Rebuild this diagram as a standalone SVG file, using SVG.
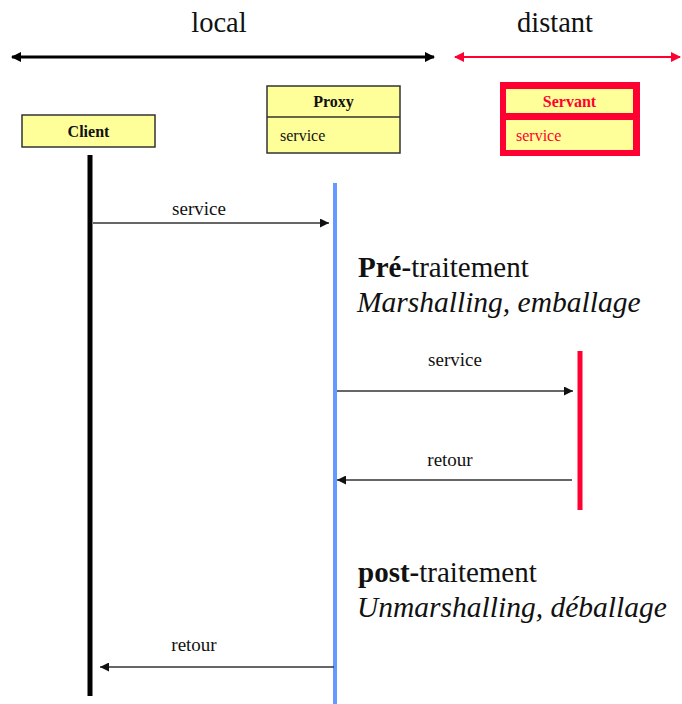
<svg xmlns="http://www.w3.org/2000/svg" width="682" height="704" viewBox="0 0 682 704" font-family="'Liberation Serif', 'Times New Roman', serif">
  <style>
    .box { fill: #ffff99; stroke: #333; stroke-width: 1.5; }
    .title { font-size: 16px; font-weight: bold; text-anchor: middle; fill: #111; }
    .op { font-size: 16px; fill: #111; }
    .msg { font-size: 19px; text-anchor: middle; fill: #111; }
    .zone { font-size: 28.5px; text-anchor: middle; fill: #111; }
    .big { font-size: 29px; fill: #111; }
    .sub { font-size: 29.5px; font-style: italic; fill: #111; }
    .call { stroke: #333; stroke-width: 1.6; fill: none; }
  </style>
  <defs>
    <marker id="head" viewBox="0 0 10 10" refX="10" refY="5" markerWidth="10" markerHeight="9" markerUnits="userSpaceOnUse" orient="auto-start-reverse">
      <path d="M0,0 L10,5 L0,10 z" fill="#111"/>
    </marker>
    <marker id="zoneHeadBlack" viewBox="0 0 10 10" refX="9" refY="5" markerWidth="3.5" markerHeight="3.5" orient="auto-start-reverse">
      <path d="M0,0 L10,5 L0,10 z" fill="#000"/>
    </marker>
    <marker id="zoneHeadRed" viewBox="0 0 10 10" refX="9" refY="5" markerWidth="5" markerHeight="5" orient="auto-start-reverse">
      <path d="M0,0 L10,5 L0,10 z" fill="#ff0033"/>
    </marker>
  </defs>

  <!-- zone headers -->
  <g id="zone-local">
    <text class="zone" x="219" y="32" font-family="'Liberation Serif', serif">local</text>
    <line x1="12" y1="57" x2="434" y2="57" stroke="#000" stroke-width="3" marker-start="url(#zoneHeadBlack)" marker-end="url(#zoneHeadBlack)"/>
  </g>
  <g id="zone-distant">
    <text class="zone" x="555" y="32" font-family="'Liberation Serif', serif">distant</text>
    <line x1="455" y1="57" x2="680" y2="57" stroke="#ff0033" stroke-width="2" marker-start="url(#zoneHeadRed)" marker-end="url(#zoneHeadRed)"/>
  </g>

  <!-- participants -->
  <g id="client">
    <rect class="box" x="22" y="115" width="133" height="32"/>
    <text class="title" x="88.5" y="137" font-family="'Liberation Serif', serif">Client</text>
    <line x1="90" y1="155" x2="90" y2="696" stroke="#000" stroke-width="5"/>
  </g>

  <g id="proxy">
    <rect class="box" x="267" y="86" width="133" height="67"/>
    <line x1="267" y1="117" x2="400" y2="117" stroke="#333" stroke-width="1.5"/>
    <text class="title" x="333.5" y="107" font-family="'Liberation Serif', serif">Proxy</text>
    <text class="op" x="280" y="141" font-family="'Liberation Serif', serif">service</text>
    <line x1="335" y1="183" x2="335" y2="704" stroke="#6699ff" stroke-width="4"/>
  </g>

  <g id="servant">
    <rect x="500" y="82" width="140" height="74" fill="#ff0033"/>
    <rect x="506" y="89" width="127" height="24" fill="#ffff99"/>
    <rect x="506" y="120" width="127" height="30" fill="#ffff99"/>
    <text class="title" x="569.5" y="107" style="fill:#ff0033" font-family="'Liberation Serif', serif">Servant</text>
    <text class="op" x="516" y="141" style="fill:#ff0033" font-family="'Liberation Serif', serif">service</text>
    <line x1="580" y1="351" x2="580" y2="510" stroke="#ff0033" stroke-width="5"/>
  </g>

  <!-- processing notes -->
  <g id="pre-traitement" font-family="'Liberation Serif', serif">
    <text class="big" x="358" y="277"><tspan font-weight="bold">Pré-</tspan>traitement</text>
    <text class="sub" x="357" y="312">Marshalling, emballage</text>
  </g>
  <g id="post-traitement" font-family="'Liberation Serif', serif">
    <text class="big" x="358" y="582"><tspan font-weight="bold">post-</tspan>traitement</text>
    <text class="sub" x="357" y="617">Unmarshalling, déballage</text>
  </g>

  <!-- messages -->
  <g id="connectors" font-family="'Liberation Serif', serif">
    <line class="call" x1="93" y1="223" x2="329" y2="223" marker-end="url(#head)"/>
    <text class="msg" x="199" y="215">service</text>

    <line class="call" x1="337" y1="391" x2="573" y2="391" marker-end="url(#head)"/>
    <text class="msg" x="455" y="366">service</text>

    <line class="call" x1="572" y1="480" x2="337" y2="480" marker-end="url(#head)"/>
    <text class="msg" x="450" y="466">retour</text>

    <line class="call" x1="334" y1="667" x2="100" y2="667" marker-end="url(#head)"/>
    <text class="msg" x="194" y="651">retour</text>
  </g>
</svg>
